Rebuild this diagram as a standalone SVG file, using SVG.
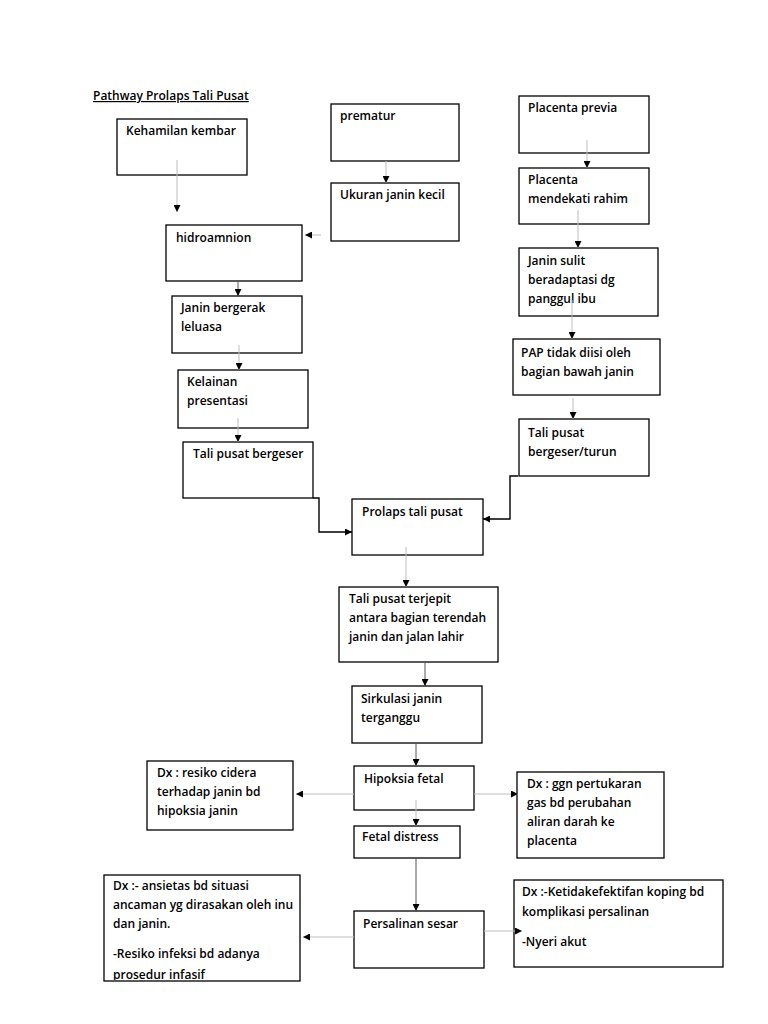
<svg xmlns="http://www.w3.org/2000/svg" width="768" height="1024" viewBox="0 0 768 1024">
<style>
.box{fill:#fff;stroke:#000;stroke-width:1.3}
.t{font-family:"Open Sans","Noto Sans",sans-serif;font-size:12px;font-weight:600;fill:#000}
.title{font-family:"Open Sans","Noto Sans",sans-serif;font-size:12px;font-weight:600;fill:#000;text-decoration:underline}
.g{stroke:#bdbdbd;stroke-width:1;fill:none}
.d{stroke:#555;stroke-width:1;fill:none}
.k{stroke:#000;stroke-width:1.4;fill:none}
</style>
<defs>
<marker id="ah" viewBox="0 0 8 8" refX="8" refY="4" markerWidth="7" markerHeight="7" markerUnits="userSpaceOnUse" orient="auto">
<path d="M0,0 L8,4 L0,8 z" fill="#000"/>
</marker>
<clipPath id="clipA"><rect x="104" y="875" width="196" height="105"/></clipPath>
</defs>
<rect width="768" height="1024" fill="#fff"/>
<text class="title" x="93" y="100">Pathway Prolaps Tali Pusat</text>

<g id="n-kehamilan"><rect class="box" x="117" y="119" width="130" height="56"/><text class="t" x="126" y="135">Kehamilan kembar</text></g>
<g id="n-hidroamnion"><rect class="box" x="166" y="225" width="136" height="56"/><text class="t" x="176" y="242">hidroamnion</text></g>
<g id="n-prematur"><rect class="box" x="331" y="104" width="128" height="57"/><text class="t" x="340" y="120">prematur</text></g>
<g id="n-ukuran"><rect class="box" x="331" y="183" width="128" height="58"/><text class="t" x="340" y="199">Ukuran janin kecil</text></g>
<g id="n-previa"><rect class="box" x="519" y="96" width="130" height="57"/><text class="t" x="528" y="112">Placenta previa</text></g>
<g id="n-mendekati"><rect class="box" x="519" y="168" width="130" height="56"/><text class="t" x="528" y="184">Placenta</text><text class="t" x="528" y="203">mendekati rahim</text></g>
<g id="n-janinsulit"><rect class="box" x="519" y="248" width="139" height="68"/><text class="t" x="528" y="265">Janin sulit</text><text class="t" x="528" y="284">beradaptasi dg</text><text class="t" x="528" y="303">panggul ibu</text></g>
<g id="n-pap"><rect class="box" x="513" y="339" width="147" height="56"/><text class="t" x="521" y="357">PAP tidak diisi oleh</text><text class="t" x="521" y="376">bagian bawah janin</text></g>
<g id="n-bergeserturun"><rect class="box" x="519" y="419" width="130" height="57"/><text class="t" x="528" y="437">Tali pusat</text><text class="t" x="528" y="456">bergeser/turun</text></g>
<g id="n-janinbergerak"><rect class="box" x="172" y="296" width="130" height="57"/><text class="t" x="181" y="312">Janin bergerak</text><text class="t" x="181" y="331">leluasa</text></g>
<g id="n-kelainan"><rect class="box" x="178" y="370" width="130" height="58"/><text class="t" x="187" y="386">Kelainan</text><text class="t" x="187" y="405">presentasi</text></g>
<g id="n-bergeser"><rect class="box" x="183" y="442" width="130" height="56"/><text class="t" x="193" y="458">Tali pusat bergeser</text></g>
<g id="n-prolaps"><rect class="box" x="352" y="499" width="131" height="56"/><text class="t" x="362" y="516">Prolaps tali pusat</text></g>
<g id="n-terjepit"><rect class="box" x="339" y="587" width="159" height="75"/><text class="t" x="349" y="603">Tali pusat terjepit</text><text class="t" x="349" y="622">antara bagian terendah</text><text class="t" x="349" y="641">janin dan jalan lahir</text></g>
<g id="n-sirkulasi"><rect class="box" x="352" y="686" width="130" height="57"/><text class="t" x="361" y="703">Sirkulasi janin</text><text class="t" x="361" y="722">terganggu</text></g>
<g id="n-hipoksia"><rect class="box" x="354" y="766" width="120" height="44"/><text class="t" x="364" y="783">Hipoksia fetal</text></g>
<g id="n-fetaldistress"><rect class="box" x="354" y="826" width="106" height="32"/><text class="t" x="362" y="841">Fetal distress</text></g>
<g id="n-persalinan"><rect class="box" x="354" y="911" width="130" height="57"/><text class="t" x="363" y="928">Persalinan sesar</text></g>
<g id="n-dxcidera"><rect class="box" x="147" y="761" width="146" height="69"/><text class="t" x="157" y="777">Dx : resiko cidera</text><text class="t" x="157" y="796">terhadap janin bd</text><text class="t" x="157" y="815">hipoksia janin</text></g>
<g id="n-dxggn"><rect class="box" x="517" y="772" width="147" height="86"/><text class="t" x="527" y="788">Dx : ggn pertukaran</text><text class="t" x="527" y="807">gas bd perubahan</text><text class="t" x="527" y="826">aliran darah ke</text><text class="t" x="527" y="845">placenta</text></g>
<g id="n-dxansietas"><rect class="box" x="104" y="875" width="196" height="106"/><g clip-path="url(#clipA)"><text class="t" x="113" y="890">Dx :- ansietas bd situasi</text><text class="t" x="113" y="909">ancaman yg dirasakan oleh inu</text><text class="t" x="113" y="928">dan janin.</text><text class="t" x="113" y="958">-Resiko infeksi bd adanya</text><text class="t" x="113" y="979">prosedur infasif</text></g></g>
<g id="n-dxkoping"><rect class="box" x="514" y="880" width="209" height="87"/><text class="t" x="522" y="896">Dx :-Ketidakefektifan koping bd</text><text class="t" x="522" y="916">komplikasi persalinan</text><text class="t" x="522" y="946">-Nyeri akut</text></g>

<g id="connectors">
<line class="g" x1="177" y1="160" x2="177" y2="212" marker-end="url(#ah)"/>
<line class="g" x1="386" y1="161" x2="386" y2="183" marker-end="url(#ah)"/>
<line class="g" x1="321" y1="235" x2="305" y2="235" marker-end="url(#ah)"/>
<line class="d" x1="238" y1="281" x2="238" y2="296" marker-end="url(#ah)"/>
<line class="g" x1="239" y1="345" x2="239" y2="370" marker-end="url(#ah)"/>
<line class="g" x1="238" y1="418" x2="238" y2="442" marker-end="url(#ah)"/>
<polyline class="k" points="313,498 319,498 319,532 352,532" marker-end="url(#ah)"/>
<line class="g" x1="587" y1="140" x2="587" y2="168" marker-end="url(#ah)"/>
<line class="g" x1="578" y1="210" x2="578" y2="248" marker-end="url(#ah)"/>
<line class="g" x1="572" y1="300" x2="572" y2="339" marker-end="url(#ah)"/>
<line class="g" x1="573" y1="398" x2="573" y2="419" marker-end="url(#ah)"/>
<polyline class="k" points="518,476 510,476 510,519 483,519" marker-end="url(#ah)"/>
<line class="g" x1="406" y1="547" x2="406" y2="587" marker-end="url(#ah)"/>
<line class="d" x1="425" y1="662" x2="425" y2="686" marker-end="url(#ah)"/>
<line class="d" x1="416" y1="743" x2="416" y2="766" marker-end="url(#ah)"/>
<line class="g" x1="416" y1="800" x2="416" y2="826" marker-end="url(#ah)"/>
<line class="g" x1="354" y1="794" x2="296" y2="794" marker-end="url(#ah)"/>
<line class="g" x1="474" y1="794" x2="518" y2="794" marker-end="url(#ah)"/>
<line class="d" x1="416" y1="858" x2="416" y2="911" marker-end="url(#ah)"/>
<line class="g" x1="354" y1="937" x2="303" y2="937" marker-end="url(#ah)"/>
<line class="g" x1="484" y1="931" x2="522" y2="931" marker-end="url(#ah)"/>
</g>
</svg>
